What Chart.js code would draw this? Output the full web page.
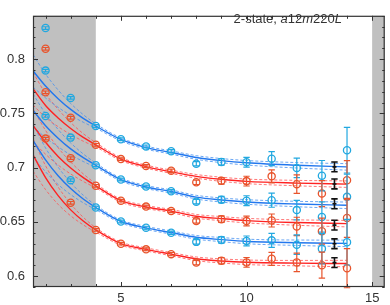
<!DOCTYPE html>
<html><head><meta charset="utf-8">
<script src="https://cdn.jsdelivr.net/npm/chart.js@4.4.1/dist/chart.umd.min.js"></script>
<style>html,body{margin:0;padding:0;background:#fff}#wrap{width:390px;height:305px}</style>
</head><body><div id="wrap"><canvas id="c" width="390" height="305"></canvas></div>
<script>
// ---- data ----
const tPoints = [2,3,4,5,6,7,8,9,10,11,12,13,14];
const ptB1 = [0.8287,0.7643,0.7384,0.7262,0.7196,0.7152,0.7036,0.7053,0.7050,0.7083,0.6998,0.6926,0.7161];
const ptR1 = [0.8096,0.7460,0.7211,0.7079,0.7016,0.6972,0.6865,0.6879,0.6876,0.6920,0.6848,0.6761,0.6885];
const ptB2 = [0.7895,0.7277,0.7022,0.6891,0.6827,0.6783,0.6687,0.6705,0.6696,0.6700,0.6609,0.6545,0.6731];
const ptR2 = [0.7695,0.7088,0.6833,0.6696,0.6641,0.6600,0.6508,0.6525,0.6508,0.6513,0.6458,0.6415,0.6537];
const ptB3 = [0.7477,0.6885,0.6633,0.6504,0.6447,0.6400,0.6316,0.6334,0.6325,0.6330,0.6290,0.6252,0.6313];
const ptR3 = [0.7268,0.6676,0.6426,0.6299,0.6247,0.6203,0.6125,0.6142,0.6127,0.6160,0.6127,0.6101,0.6073];
const errBlue = [0.0012,0.0012,0.0012,0.0012,0.0013,0.0015,0.002,0.003,0.0045,0.0065,0.009,0.014,0.021];
const errRed  = [0.0012,0.0012,0.0012,0.0012,0.0013,0.0015,0.002,0.003,0.0045,0.006,0.0085,0.012,0.018];

const tCurve = [1.5,2,2.5,3,3.5,4,5,6,7,8,9,10,12,14];
const curveB1 = [0.7893,0.7753,0.7636,0.7537,0.7454,0.7384,0.7260,0.7185,0.7140,0.7094,0.7065,0.7045,0.7022,0.7007];
const curveR1 = [0.7728,0.7573,0.7458,0.7361,0.7279,0.7211,0.7079,0.7010,0.6962,0.6920,0.6893,0.6874,0.6858,0.6848];
const curveB2 = [0.7530,0.7387,0.7272,0.7173,0.7092,0.7022,0.6890,0.6822,0.6780,0.6728,0.6702,0.6684,0.6665,0.6653];
const curveR2 = [0.7390,0.7234,0.7104,0.6997,0.6908,0.6833,0.6696,0.6638,0.6600,0.6552,0.6530,0.6512,0.6494,0.6484];
const curveB3 = [0.7251,0.7072,0.6925,0.6807,0.6711,0.6633,0.6504,0.6445,0.6402,0.6358,0.6337,0.6320,0.6308,0.6302];
const curveR3 = [0.7118,0.6908,0.6742,0.6611,0.6508,0.6426,0.6300,0.6247,0.6203,0.6160,0.6140,0.6128,0.6120,0.6116];
const bandHalf = [0.015,0.011,0.008,0.0055,0.0035,0.002,0.0014,0.0014,0.0015,0.0017,0.0019,0.0021,0.0025,0.003];

const tBlack = 13.5;
const blackVals = [0.7007,0.6850,0.6667,0.6470,0.6299,0.6125];
const blackErr = 0.0045;

const xTickLabels = [5,10,15];
const yTickLabels = [0.6,0.65,0.7,0.75,0.8];
const shadeRanges = [[1.5,4],[15,15.5]];
const titleParts = [["2-state, ","normal"],["a","italic"],["12","normal"],["m","italic"],["220","normal"],["L","italic"]];

// ---- styles ----
const C = {ptB:'#22a8e0', ptR:'#e8542c', lnB:'#2277ee', lnR:'#ff2222',
           bdB:'rgba(70,145,240,0.8)', bdR:'rgba(255,85,85,0.8)'};

const series = [
  {pts:ptB1, crv:curveB1, err:errBlue, blue:true},
  {pts:ptR1, crv:curveR1, err:errRed, blue:false},
  {pts:ptB2, crv:curveB2, err:errBlue, blue:true},
  {pts:ptR2, crv:curveR2, err:errRed, blue:false},
  {pts:ptB3, crv:curveB3, err:errBlue, blue:true},
  {pts:ptR3, crv:curveR3, err:errRed, blue:false},
];

const datasets = [];
series.forEach((s,i)=>{
  const lc = s.blue?C.lnB:C.lnR, bc = s.blue?C.bdB:C.bdR, pc = s.blue?C.ptB:C.ptR;
  [1,-1].forEach(sg=>{
    datasets.push({type:'line', data:tCurve.map((x,k)=>({x, y:s.crv[k]+sg*bandHalf[k]})),
      borderColor:bc, borderWidth:1, borderDash:[3,2], pointRadius:0, cubicInterpolationMode:'monotone', order:4});
  });
  datasets.push({type:'line', data:tCurve.map((x,k)=>({x, y:s.crv[k]})),
    borderColor:lc, borderWidth:1.4, pointRadius:0, cubicInterpolationMode:'monotone', order:3});
  datasets.push({type:'line', showLine:false, data:tPoints.map((x,k)=>({x, y:s.pts[k]})),
    pointRadius:3.6, pointBorderWidth:1.3, pointBorderColor:pc, pointBackgroundColor:'rgba(0,0,0,0)',
    borderColor:pc, order:1, errs:s.err, errColor:pc});
});
datasets.push({type:'line', showLine:false, data:blackVals.map(y=>({x:tBlack,y})), pointRadius:0,
  borderColor:'#111', order:1, errs:blackVals.map(()=>blackErr), errColor:'#111', black:true});

const shadePlugin = {id:'shade', beforeDatasetsDraw(chart){
  const {ctx, chartArea:ca, scales:{x}} = chart;
  ctx.save(); ctx.fillStyle='#c0c0c0';
  shadeRanges.forEach(([a,b])=>{const p1=x.getPixelForValue(a), p2=x.getPixelForValue(b); ctx.fillRect(p1,ca.top,p2-p1,ca.bottom-ca.top);});
  ctx.restore();
}};

const errPlugin = {id:'errs', afterDatasetsDraw(chart){
  const {ctx, scales:{x,y}} = chart;
  ctx.save();
  chart.data.datasets.forEach(ds=>{
    if(!ds.errs) return;
    ctx.strokeStyle=ds.errColor; ctx.lineWidth=ds.black?1.6:1.2;
    ds.data.forEach((p,k)=>{
      const px=x.getPixelForValue(p.x), py1=y.getPixelForValue(p.y+ds.errs[k]), py2=y.getPixelForValue(p.y-ds.errs[k]);
      const cw = 3.2;
      ctx.beginPath();
      ctx.moveTo(px,py1); ctx.lineTo(px,py2);
      ctx.moveTo(px-cw,py1); ctx.lineTo(px+cw,py1);
      ctx.moveTo(px-cw,py2); ctx.lineTo(px+cw,py2);
      if(ds.black){const pc=y.getPixelForValue(p.y); ctx.moveTo(px-2,pc); ctx.lineTo(px+2,pc);}
      ctx.stroke();
    });
  });
  ctx.restore();
}};

const framePlugin = {id:'frame', afterDraw(chart){
  const {ctx, chartArea:ca, scales:{x,y}} = chart;
  ctx.save(); ctx.strokeStyle='#333'; ctx.lineWidth=1;
  ctx.beginPath();
  for(let v=2; v<=15; v++){
    const px=Math.round(x.getPixelForValue(v))+0.5, L=(v%5===0)?5:3;
    ctx.moveTo(px,ca.bottom); ctx.lineTo(px,ca.bottom-L);
    ctx.moveTo(px,ca.top); ctx.lineTo(px,ca.top+L);
  }
  for(let k=59; k<=84; k++){
    const py=Math.round(y.getPixelForValue(k/100))+0.5, L=(k%5===0)?5:2.5;
    ctx.moveTo(ca.left,py); ctx.lineTo(ca.left+L,py);
    ctx.moveTo(ca.right,py); ctx.lineTo(ca.right-L,py);
  }
  ctx.stroke();
  ctx.lineWidth=1.2;
  ctx.strokeRect(ca.left+0.5, ca.top+0.5, ca.right-ca.left-1, ca.bottom-ca.top-1);
  // title text
  ctx.fillStyle='#333'; ctx.textBaseline='alphabetic';
  let w=0;
  titleParts.forEach(([t,st])=>{ctx.font=st+' 13px "Liberation Sans"'; w+=ctx.measureText(t).width;});
  let xx = 342 - w;
  titleParts.forEach(([t,st])=>{ctx.font=st+' 13px "Liberation Sans"'; ctx.fillText(t,xx,23); xx+=ctx.measureText(t).width;});
  ctx.restore();
}};

new Chart(document.getElementById('c'), {
  data:{datasets},
  options:{
    responsive:false, animation:false, devicePixelRatio:1,
    layout:{padding:{left:0,right:2,top:2,bottom:0}},
    plugins:{legend:{display:false}, tooltip:{enabled:false}},
    scales:{
      x:{type:'linear', min:1.5, max:15.5, grid:{display:false, drawTicks:false}, border:{display:false},
         afterBuildTicks:s=>{s.ticks=xTickLabels.map(v=>({value:v}));},
         afterFit:s=>{s.height=18;},
         ticks:{padding:4, color:'#333', font:{family:'Liberation Sans', size:13}, callback:v=>String(v)}},
      y:{type:'linear', min:0.59, max:0.84, grid:{display:false, drawTicks:false}, border:{display:false},
         afterBuildTicks:s=>{s.ticks=yTickLabels.map(v=>({value:v}));},
         afterFit:s=>{s.width=33;},
         ticks:{padding:8, color:'#333', font:{family:'Liberation Sans', size:13}, callback:v=>String(Math.round(v*100)/100)}}
    }
  },
  plugins:[shadePlugin, errPlugin, framePlugin]
});
</script></body></html>
